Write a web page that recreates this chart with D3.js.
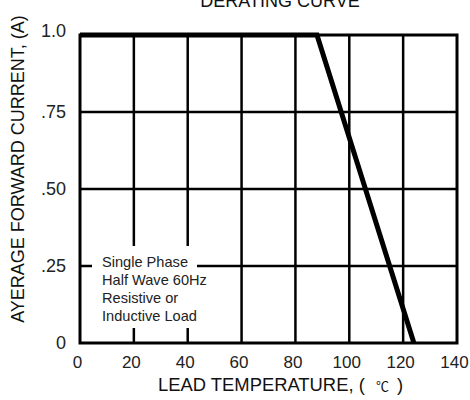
<!DOCTYPE html>
<html><head><meta charset="utf-8">
<script src="https://cdn.jsdelivr.net/npm/d3@7"></script>
<style>body{margin:0;background:#fff}svg{display:block;font-family:"Liberation Sans",Arial,sans-serif}</style>
</head><body><svg id="c" width="470" height="400"></svg>
<script>
const xTicks = [0, 20, 40, 60, 80, 100, 120, 140];
const yTicks = [0, 0.25, 0.5, 0.75, 1.0];
const yTickLabels = ["0", ".25", ".50", ".75", "1.0"];
const curveTemp = [0, 88, 124];
const curveCurrent = [1.0, 1.0, 0];
const noteLines = ["Single Phase", "Half Wave 60Hz", "Resistive or", "Inductive Load"];

const svg = d3.select("#c");
const L = 80, R = 457, T = 35, B = 343;
const x = d3.scaleLinear().domain([0, 140]).range([L, R]);
const y = d3.scaleLinear().domain([0, 1]).range([B, T]);

// grid
const g = svg.append("g");
g.selectAll(".vx").data(xTicks.slice(1, -1)).enter().append("line")
  .attr("x1", d => x(d)).attr("x2", d => x(d)).attr("y1", T).attr("y2", B)
  .attr("stroke", "#000").attr("stroke-width", 2.5);
g.selectAll(".hy").data(yTicks.slice(1, -1)).enter().append("line")
  .attr("x1", L).attr("x2", R).attr("y1", d => y(d)).attr("y2", d => y(d))
  .attr("stroke", "#000").attr("stroke-width", 2.5);

// note box background
svg.append("rect").attr("x", 92).attr("y", 246).attr("width", 105).attr("height", 82).attr("fill", "#fff");

// border
svg.append("rect").attr("x", L).attr("y", T).attr("width", R - L).attr("height", B - T)
  .attr("fill", "none").attr("stroke", "#000").attr("stroke-width", 3);

// curve
const pts = curveTemp.map((t, i) => [t, curveCurrent[i]]);
svg.append("path").datum(pts)
  .attr("d", d3.line().x(d => x(d[0])).y(d => y(d[1])))
  .attr("fill", "none").attr("stroke", "#000").attr("stroke-width", 5).attr("stroke-linejoin", "miter");

// tick labels via axes (no lines)
const xa = svg.append("g").attr("transform", `translate(-3,${B})`)
  .call(d3.axisBottom(x).tickValues(xTicks).tickSize(0).tickPadding(13).tickFormat(d3.format("d")));
xa.select(".domain").remove();
xa.selectAll("text").attr("font-size", 17).attr("fill", "#222").attr("font-family", "Liberation Sans, Arial, sans-serif");

const ya = svg.append("g").attr("transform", `translate(${L},0)`)
  .call(d3.axisLeft(y).tickValues(yTicks).tickSize(0).tickPadding(14).tickFormat((d, i) => yTickLabels[i]));
ya.select(".domain").remove();
ya.selectAll("text").attr("font-size", 18).attr("fill", "#222").attr("font-family", "Liberation Sans, Arial, sans-serif")
  .attr("transform", d => d === 1 ? "translate(0,-4)" : null);

// note text
svg.append("g").selectAll("text").data(noteLines).enter().append("text")
  .attr("x", 102).attr("y", (d, i) => 267 + i * 18)
  .attr("font-size", 14.6).attr("fill", "#222").text(d => d);

// title (clipped at top, as in the reference)
svg.append("text").attr("x", 280).attr("y", 7).attr("text-anchor", "middle")
  .attr("font-size", 18).attr("fill", "#111").text("DERATING CURVE");

// x axis title
const xt = svg.append("text").attr("x", 158).attr("y", 391)
  .attr("font-size", 18.4).attr("fill", "#111");
xt.append("tspan").text("LEAD TEMPERATURE, ( ");
xt.append("tspan").attr("dx", 6).attr("font-size", 13).attr("font-family", "Noto Sans CJK SC").text("℃");
xt.append("tspan").attr("dx", 3).text(" )");

// y axis title
svg.append("text").attr("transform", "translate(24,169) rotate(-90)").attr("text-anchor", "middle")
  .attr("font-size", 18).attr("fill", "#111").text("AYERAGE FORWARD CURRENT, (A)");
</script></body></html>
